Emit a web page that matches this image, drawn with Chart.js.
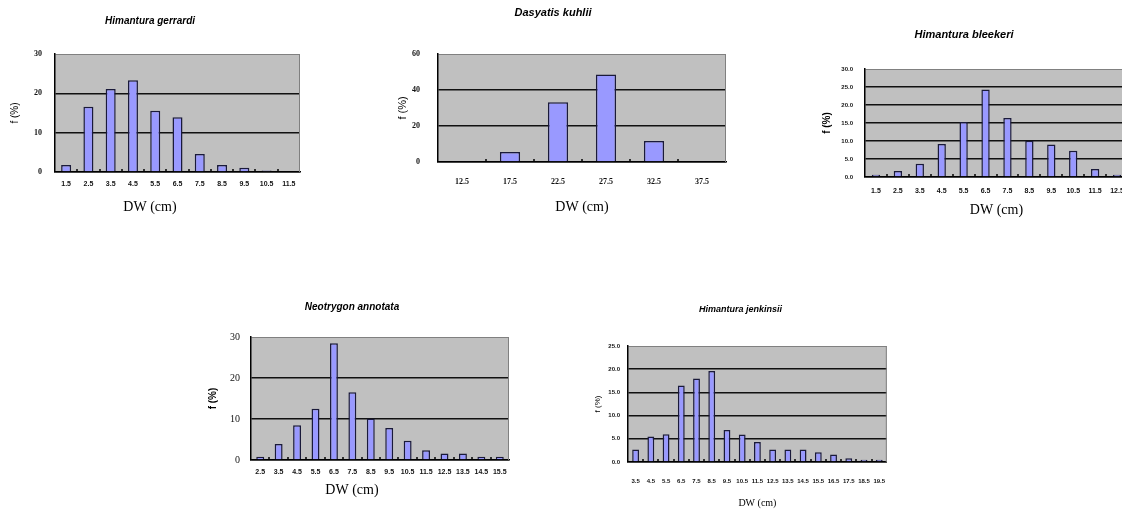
<!DOCTYPE html>
<html><head><meta charset="utf-8">
<script src="https://cdn.jsdelivr.net/npm/chart.js@4.4.0/dist/chart.umd.min.js"></script>
<style>
html,body{margin:0;padding:0;background:#fff;overflow:hidden;width:1122px;height:513px;position:relative;}
canvas{position:absolute;}
</style></head><body>
<canvas id="c1"></canvas><canvas id="c2"></canvas><canvas id="c3"></canvas><canvas id="c4"></canvas><canvas id="c5"></canvas>
<script>
// ---- data ----
const titleGerrardi = 'Himantura gerrardi';
const catsGerrardi = ['1.5','2.5','3.5','4.5','5.5','6.5','7.5','8.5','9.5','10.5','11.5'];
const valsGerrardi = [1.8,16.6,21.1,23.3,15.6,13.9,4.6,1.8,1.1,0.4,0];

const titleKuhlii = 'Dasyatis kuhlii';
const catsKuhlii = ['12.5','17.5','22.5','27.5','32.5','37.5'];
const valsKuhlii = [0.5,5.5,33.2,48.6,11.7,0.5];

const titleBleekeri = 'Himantura bleekeri';
const catsBleekeri = ['1.5','2.5','3.5','4.5','5.5','6.5','7.5','8.5','9.5','10.5','11.5','12.5'];
const valsBleekeri = [0.6,1.7,3.7,9.2,15.3,24.3,16.4,10.1,9.0,7.3,2.2,0.6];

const titleAnnotata = 'Neotrygon annotata';
const catsAnnotata = ['2.5','3.5','4.5','5.5','6.5','7.5','8.5','9.5','10.5','11.5','12.5','13.5','14.5','15.5'];
const valsAnnotata = [0.8,3.9,8.5,12.5,28.5,16.5,10.1,7.8,4.7,2.4,1.6,1.6,0.8,0.8];

const titleJenkinsii = 'Himantura jenkinsii';
const catsJenkinsii = ['3.5','4.5','5.5','6.5','7.5','8.5','9.5','10.5','11.5','12.5','13.5','14.5','15.5','16.5','17.5','18.5','19.5'];
const valsJenkinsii = [2.7,5.5,6.0,16.5,18.0,19.6,6.9,5.9,4.3,2.7,2.7,2.7,2.1,1.6,0.8,0.5,0.5];

const xTitle = 'DW (cm)';
const yTitle = 'f (%)';

// ---- drawing ----
const frame = {
  id: 'frame',
  beforeDraw(chart) {
    const {ctx, chartArea: a} = chart;
    ctx.save();
    ctx.fillStyle = '#c0c0c0';
    ctx.fillRect(a.left, a.top, a.right - a.left, a.bottom - a.top);
    ctx.restore();
  },
  afterDatasetsDraw(chart) {
    const {ctx, chartArea: a, scales: {x}} = chart;
    ctx.save();
    ctx.strokeStyle = '#808080';
    ctx.lineWidth = 1;
    ctx.beginPath();
    ctx.moveTo(a.right - 0.5, a.top);
    ctx.lineTo(a.right - 0.5, a.bottom);
    ctx.stroke();
    ctx.strokeStyle = '#000';
    ctx.lineWidth = 1.5;
    const n = x.ticks.length;
    for (let i = 1; i < n; i++) {
      const px = Math.round(x.getPixelForValue(i - 0.5));
      ctx.beginPath();
      ctx.moveTo(px, a.bottom - 3);
      ctx.lineTo(px, a.bottom);
      ctx.stroke();
    }
    ctx.restore();
  }
};

function makeChart(id, o) {
  const cv = document.getElementById(id);
  cv.width = o.w; cv.height = o.h;
  cv.style.left = o.cx + 'px'; cv.style.top = o.cy + 'px';
  return new Chart(cv, {
    type: 'bar',
    data: {labels: o.labels, datasets: [{data: o.values, backgroundColor: '#9999ff', borderColor: '#1a1a3a', borderWidth: 1.5, barPercentage: o.barPct, categoryPercentage: 1}]},
    options: {
      responsive: false, animation: false, devicePixelRatio: 1,
      layout: {padding: {left: 0, top: 0, bottom: 0, right: o.padR}},
      plugins: {
        legend: {display: false}, tooltip: {enabled: false},
        title: {display: true, text: o.title, font: o.titleFont, color: '#000', padding: {top: o.tpt, bottom: o.tpb}},
        subtitle: o.subX ? {display: true, position: 'bottom', text: xTitle, font: o.xFont, color: '#000', padding: {top: 0, bottom: o.xpb}} : {display: false}
      },
      scales: {
        x: {
          grid: {display: false, drawTicks: false},
          border: {display: true, color: '#000', width: 1.5},
          ticks: {autoSkip: false, maxRotation: 0, minRotation: 0, padding: o.xtp, font: o.xtFont, color: '#111'},
          title: {display: !o.subX, text: xTitle, font: o.xFont, color: '#000', padding: {top: 0, bottom: o.xpb}},
          afterFit: s => { s.height = o.Hx; }
        },
        y: {
          min: 0, max: o.ymax,
          ticks: {stepSize: o.step, padding: o.ytp, font: o.ytFont, color: '#111', callback: o.fmt},
          grid: {color: c => (c.tick && c.tick.value === o.ymax) ? '#808080' : '#111', lineWidth: c => (c.tick && c.tick.value === o.ymax) ? 1 : 1.5, drawTicks: false},
          border: {display: true, color: '#000', width: 1.5},
          title: {display: true, text: yTitle, font: o.yFont, color: '#000', padding: {top: o.yTitlePad, bottom: 0}},
          afterFit: s => { s.width = o.Wy; }
        }
      }
    },
    plugins: [frame]
  });
}

const intFmt = v => String(v);
const decFmt = v => Number(v).toFixed(1);
const sans = 'Liberation Sans, Arial, sans-serif';
const serif = 'Liberation Serif, Times New Roman, serif';

makeChart('c1', {cx: 0, cy: 0, w: 306, h: 220, padR: 6, Wy: 55, Hx: 26.6,
  title: titleGerrardi, titleFont: {family: sans, size: 10, style: 'italic', weight: 'bold'}, tpt: 15, tpb: 27,
  labels: catsGerrardi, values: valsGerrardi, barPct: 0.45,
  subX: true, xFont: {family: serif, size: 14}, xpb: 4.6,
  xtp: 8.2, xtFont: {family: sans, size: 7, weight: 'bold'},
  ymax: 30, step: 10, fmt: intFmt, ytp: 13, ytFont: {family: serif, size: 8, weight: 'bold'},
  yFont: {family: sans, size: 10}, yTitlePad: 9});

makeChart('c2', {cx: 380, cy: 0, w: 356, h: 222, padR: 10, Wy: 58, Hx: 60,
  title: titleKuhlii, titleFont: {family: sans, size: 11, style: 'italic'}, tpt: 6.4, tpb: 34.4,
  labels: catsKuhlii, values: valsKuhlii, barPct: 0.42,
  subX: false, xFont: {family: serif, size: 14}, xpb: 6.6,
  xtp: 15.2, xtFont: {family: serif, size: 8, weight: 'bold'},
  ymax: 60, step: 20, fmt: intFmt, ytp: 18, ytFont: {family: serif, size: 8, weight: 'bold'},
  yFont: {family: sans, size: 11}, yTitlePad: 16.4});

makeChart('c3', {cx: 800, cy: 0, w: 340, h: 225, padR: 12, Wy: 65, Hx: 48,
  title: titleBleekeri, titleFont: {family: sans, size: 11, style: 'italic', weight: 'bold'}, tpt: 28.4, tpb: 27.4,
  labels: catsBleekeri, values: valsBleekeri, barPct: 0.38,
  subX: false, xFont: {family: serif, size: 14}, xpb: 6.6,
  xtp: 10, xtFont: {family: sans, size: 7, weight: 'bold'},
  ymax: 30, step: 5, fmt: decFmt, ytp: 12, ytFont: {family: sans, size: 6, weight: 'bold'},
  yFont: {family: sans, size: 10, weight: 'bold'}, yTitlePad: 21});

makeChart('c4', {cx: 195, cy: 290, w: 320, h: 213, padR: 6, Wy: 56, Hx: 21.6,
  title: titleAnnotata, titleFont: {family: sans, size: 10, style: 'italic', weight: 'bold'}, tpt: 11, tpb: 24,
  labels: catsAnnotata, values: valsAnnotata, barPct: 0.43,
  subX: true, xFont: {family: serif, size: 14}, xpb: 4.6,
  xtp: 8, xtFont: {family: sans, size: 7, weight: 'bold'},
  ymax: 30, step: 10, fmt: intFmt, ytp: 11, ytFont: {family: serif, size: 10},
  yFont: {family: sans, size: 10, weight: 'bold'}, yTitlePad: 12});

makeChart('c5', {cx: 585, cy: 295, w: 316, h: 218, padR: 5, Wy: 43, Hx: 51,
  title: titleJenkinsii, titleFont: {family: sans, size: 9, style: 'italic', weight: 'bold'}, tpt: 9.6, tpb: 30.6,
  labels: catsJenkinsii, values: valsJenkinsii, barPct: 0.45,
  subX: false, xFont: {family: serif, size: 10}, xpb: 4,
  xtp: 15.8, xtFont: {family: sans, size: 6, weight: 'bold'},
  ymax: 25, step: 5, fmt: decFmt, ytp: 8, ytFont: {family: sans, size: 6, weight: 'bold'},
  yFont: {family: sans, size: 8}, yTitlePad: 8});
</script>
</body></html>
